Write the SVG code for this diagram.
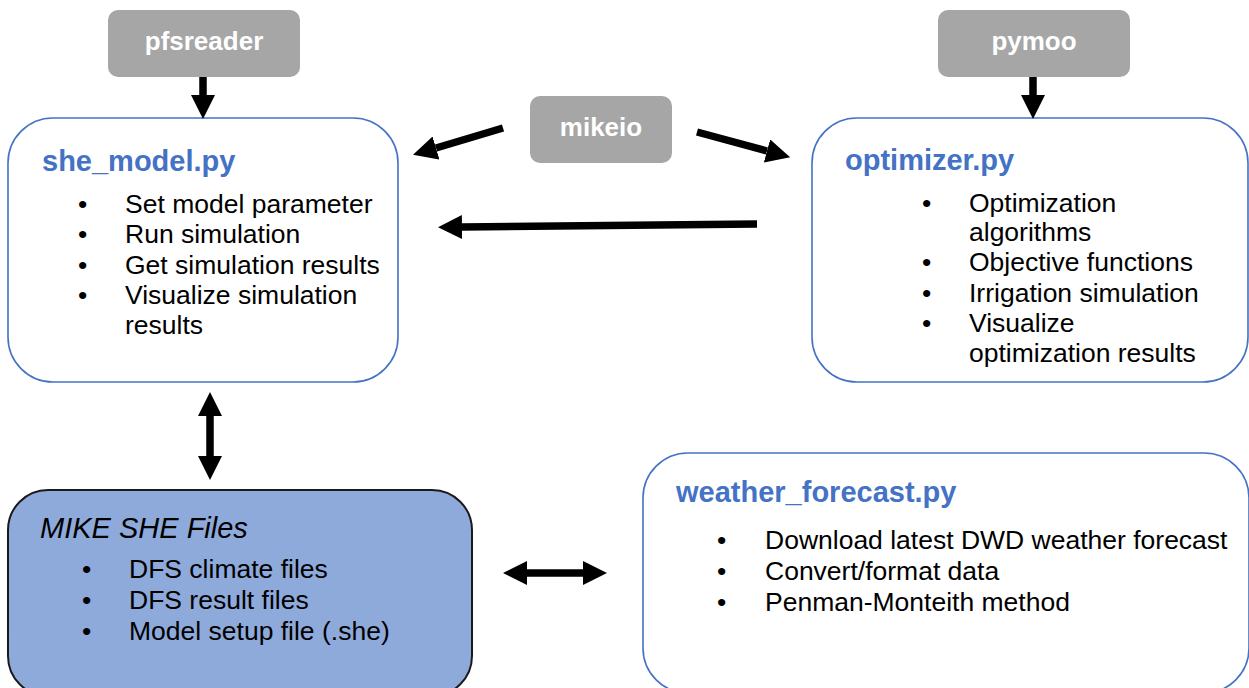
<svg xmlns="http://www.w3.org/2000/svg" width="1249" height="688" viewBox="0 0 1249 688">
  <style>
    .lib { fill: #a6a6a6; }
    .libtxt { font-family: "Liberation Sans", Arial, sans-serif; font-weight: bold; font-size: 26px; fill: #ffffff; text-anchor: middle; }
    .mod { fill: #ffffff; stroke: #4472c4; stroke-width: 1.6; }
    .title { font-family: "Liberation Sans", Arial, sans-serif; font-weight: bold; font-size: 29px; fill: #4472c4; }
    .body { font-family: "Liberation Sans", Arial, sans-serif; font-size: 26.5px; fill: #000000; }
    .files { fill: #8eaadb; stroke: #1a1a1a; stroke-width: 2; }
    .ftitle { font-family: "Liberation Sans", Arial, sans-serif; font-style: italic; font-size: 29px; fill: #000000; }
    .conn { stroke: #000000; stroke-width: 7.5; fill: none; }
  </style>
  <defs>
    <marker id="head" markerUnits="userSpaceOnUse" markerWidth="24" markerHeight="24" refX="0" refY="12" orient="auto-start-reverse" viewBox="0 0 24 24">
      <path d="M0,0 L24,12 L0,24 z" fill="#000000"/>
    </marker>
  </defs>

  <g id="pfsreader">
    <rect class="lib" x="108" y="10" width="192" height="67" rx="10"/>
    <text class="libtxt" x="204" y="50">pfsreader</text>
  </g>
  <g id="pymoo">
    <rect class="lib" x="938" y="10" width="192" height="67" rx="10"/>
    <text class="libtxt" x="1034" y="50">pymoo</text>
  </g>
  <g id="mikeio">
    <rect class="lib" x="530" y="96" width="142" height="67" rx="10"/>
    <text class="libtxt" x="601" y="136">mikeio</text>
  </g>

  <g id="she_model">
    <rect class="mod" x="8" y="118" width="390" height="264" rx="45"/>
    <text class="title" x="42" y="171">she_model.py</text>
    <text class="body" x="78" y="213">•</text>
    <text class="body" x="125" y="213">Set model parameter</text>
    <text class="body" x="78" y="243">•</text>
    <text class="body" x="125" y="243">Run simulation</text>
    <text class="body" x="78" y="274">•</text>
    <text class="body" x="125" y="274">Get simulation results</text>
    <text class="body" x="78" y="304">•</text>
    <text class="body" x="125" y="304">Visualize simulation</text>
    <text class="body" x="125" y="334">results</text>
  </g>

  <g id="optimizer">
    <rect class="mod" x="812" y="118" width="436" height="264" rx="45"/>
    <text class="title" x="845" y="170">optimizer.py</text>
    <text class="body" x="922" y="212">•</text>
    <text class="body" x="969" y="212">Optimization</text>
    <text class="body" x="969" y="241">algorithms</text>
    <text class="body" x="922" y="271">•</text>
    <text class="body" x="969" y="271">Objective functions</text>
    <text class="body" x="922" y="302">•</text>
    <text class="body" x="969" y="302">Irrigation simulation</text>
    <text class="body" x="922" y="332">•</text>
    <text class="body" x="969" y="332">Visualize</text>
    <text class="body" x="969" y="362">optimization results</text>
  </g>

  <g id="mike_she_files">
    <rect class="files" x="8" y="490" width="464" height="206" rx="40"/>
    <text class="ftitle" x="40" y="538">MIKE SHE Files</text>
    <text class="body" x="82" y="578">•</text>
    <text class="body" x="129" y="578">DFS climate files</text>
    <text class="body" x="82" y="609">•</text>
    <text class="body" x="129" y="609">DFS result files</text>
    <text class="body" x="82" y="640">•</text>
    <text class="body" x="129" y="640">Model setup file (.she)</text>
  </g>

  <g id="weather_forecast">
    <rect class="mod" x="643" y="453" width="606" height="240" rx="45"/>
    <text class="title" x="676" y="502">weather_forecast.py</text>
    <text class="body" x="717" y="549">•</text>
    <text class="body" x="765" y="549">Download latest DWD weather forecast</text>
    <text class="body" x="717" y="580">•</text>
    <text class="body" x="765" y="580">Convert/format data</text>
    <text class="body" x="717" y="611">•</text>
    <text class="body" x="765" y="611">Penman-Monteith method</text>
  </g>

  <g id="connectors">
    <line class="conn" x1="203" y1="77" x2="203" y2="95" marker-end="url(#head)"/>
    <line class="conn" x1="1033" y1="77" x2="1033" y2="95" marker-end="url(#head)"/>
    <line class="conn" x1="503" y1="128" x2="436" y2="148" marker-end="url(#head)"/>
    <line class="conn" x1="697" y1="132" x2="767" y2="151" marker-end="url(#head)"/>
    <line class="conn" x1="757" y1="224" x2="462" y2="227" marker-end="url(#head)"/>
    <line class="conn" x1="527" y1="573" x2="583" y2="573" marker-start="url(#head)" marker-end="url(#head)"/>
    <line class="conn" x1="210" y1="416" x2="210" y2="456" marker-start="url(#head)" marker-end="url(#head)"/>
  </g>
</svg>
